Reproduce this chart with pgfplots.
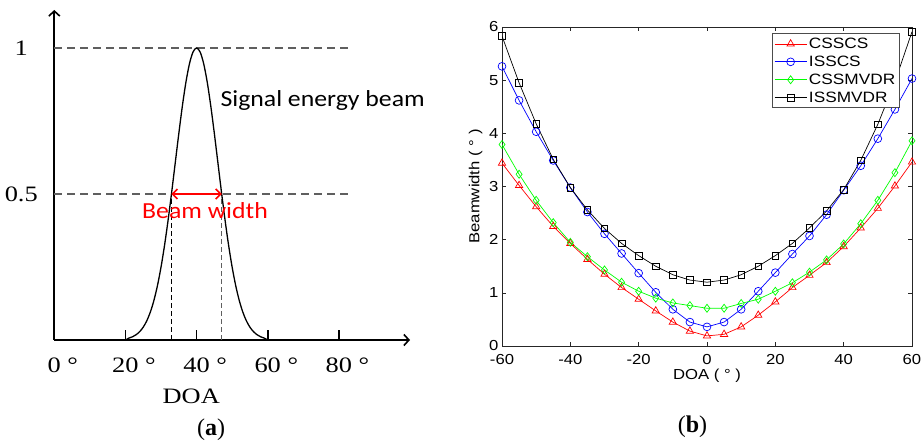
\documentclass[border=0pt]{standalone}
\usepackage{fontspec}
\setmainfont{Liberation Serif}
\usepackage{pgfplots}
\pgfplotsset{compat=1.18}
\usetikzlibrary{arrows.meta}
\newfontfamily\serA[FakeStretch=1.2]{Liberation Serif}
\newfontfamily\calA[FakeStretch=1.12]{Carlito}
\newfontfamily\sanB[FakeStretch=1.15]{Liberation Sans}
\definecolor{dgray}{RGB}{95,95,95}
\begin{document}
\begin{tikzpicture}
\useasboundingbox (0,0) rectangle (922pt,-446pt);
% ---------------- panel (a)
\begin{axis}[
  at={(54.3pt,-340pt)}, anchor=south west,
  scale only axis, width=355.7pt, height=330pt,
  xmin=0, xmax=100, ymin=0, ymax=1.13,
  axis lines=left,
  every outer x axis line/.append style={line width=1.6pt,-{Straight Barb[length=5pt,width=11pt]}},
  every outer y axis line/.append style={line width=1.6pt,-{Straight Barb[length=5pt,width=11pt]}},
  xtick={0,20,40,60,80},
  xticklabels={0\rlap{\ °},20\rlap{\ °},40\rlap{\ °},60\rlap{\ °},80\rlap{\ °}},
  xtick align=inside, major tick length=10pt,
  xtick style={line width=1.6pt,black},
  ytick={0.5,1}, yticklabels={0.5,1}, ytick style={draw=none},
  ticklabel style={font=\serA\fontsize{22}{25}\selectfont},
  xticklabel style={anchor=north, yshift=-14pt},
  yticklabel style={anchor=center, xshift=-28pt},
  xlabel={DOA},
  xlabel style={font=\serA\fontsize{22}{25}\selectfont, at={(rel axis cs:0.385,0)}, anchor=center, yshift=-56pt},
  clip=false,
]
\addplot[dgray, line width=1.1pt, dash pattern=on 8pt off 5pt] coordinates {(0,1) (83.6,1)};
\addplot[dgray, line width=1.1pt, dash pattern=on 8pt off 5pt] coordinates {(0,0.5) (83.6,0.5)};
\addplot[black, line width=1.1pt, dash pattern=on 5pt off 3pt] coordinates {(32.9,0) (32.9,0.5)};
\addplot[dgray, line width=1.1pt, dash pattern=on 5pt off 3pt] coordinates {(47.1,0) (47.1,0.5)};
\addplot[black, line width=1.3pt, smooth] coordinates {
(20,0) (21,0.0066) (22,0.0111) (23,0.0181) (24,0.0286) (25,0.0439) (26,0.0657) (27,0.0956)
(28,0.1353) (29,0.1862) (30,0.2494) (31,0.3247) (32,0.4111) (33,0.5063) (34,0.6065)
(35,0.7066) (36,0.8007) (37,0.8825) (38,0.9460) (39,0.9862) (40,1)
(41,0.9862) (42,0.9460) (43,0.8825) (44,0.8007) (45,0.7066) (46,0.6065) (47,0.5063)
(48,0.4111) (49,0.3247) (50,0.2494) (51,0.1862) (52,0.1353) (53,0.0956) (54,0.0657)
(55,0.0439) (56,0.0286) (57,0.0181) (58,0.0111) (59,0.0066) (60,0)};
\draw[red, line width=1.6pt, {Straight Barb[length=5pt,width=10pt]}-{Straight Barb[length=5pt,width=10pt]}] (axis cs:32.9,0.5) -- (axis cs:47.1,0.5);
\end{axis}
\node[font=\calA\fontsize{23}{26}\selectfont, anchor=west] at (217pt,-100pt) {Signal energy beam};
\node[red, font=\calA\fontsize{23}{26}\selectfont] at (205pt,-211pt) {Beam width};
\node[font=\fontsize{24}{28}\selectfont] at (211pt,-430pt) {(\textbf{a})};
% ---------------- panel (b)
\begin{axis}[
  at={(502pt,-346pt)}, anchor=south west,
  scale only axis, width=410pt, height=319pt,
  xmin=-60, xmax=60, ymin=0, ymax=6,
  xtick={-60,-40,...,60}, ytick={0,1,...,6},
  tick align=inside, major tick length=4pt,
  axis line style={line width=0.8pt, black!85},
  tick style={black!85, line width=0.6pt},
  /pgf/number format/assume math mode=true,
  ticklabel style={font=\sanB\fontsize{14.5}{16}\selectfont},
  xticklabel style={yshift=-5pt},
  xlabel={DOA ( ° )}, ylabel={Beamwidth ( ° )},
  label style={font=\sanB\fontsize{14.5}{16}\selectfont},
  xlabel style={yshift=3pt},
  legend style={at={(0.658,0.98)}, anchor=north west, font=\sanB\fontsize{15}{17}\selectfont,
    draw=black!70, line width=1pt, row sep=2pt, inner sep=2pt},
  legend cell align=left,
  legend image code/.code={\draw[mark repeat=2,mark phase=2] plot coordinates {(0pt,0pt) (16pt,0pt) (32pt,0pt)};},
]
\addplot[red, line width=0.7pt, mark=triangle, mark size=4.2pt] coordinates {
(-60,3.44) (-55,3.02) (-50,2.62) (-45,2.25) (-40,1.93) (-35,1.63) (-30,1.35) (-25,1.10)
(-20,0.88) (-15,0.66) (-10,0.45) (-5,0.28) (0,0.19) (5,0.22) (10,0.36) (15,0.58)
(20,0.83) (25,1.10) (30,1.33) (35,1.57) (40,1.87) (45,2.22) (50,2.59) (55,3.01) (60,3.46)};
\addlegendentry{CSSCS}
\addplot[blue, line width=0.7pt, mark=o, mark size=3.9pt] coordinates {
(-60,5.26) (-55,4.62) (-50,4.03) (-45,3.49) (-40,2.98) (-35,2.52) (-30,2.11) (-25,1.74)
(-20,1.37) (-15,1.01) (-10,0.69) (-5,0.45) (0,0.36) (5,0.45) (10,0.69) (15,1.03)
(20,1.38) (25,1.73) (30,2.07) (35,2.47) (40,2.93) (45,3.39) (50,3.90) (55,4.45) (60,5.03)};
\addlegendentry{ISSCS}
\addplot[green, line width=0.7pt, mark=diamond, mark size=4pt] coordinates {
(-60,3.79) (-55,3.23) (-50,2.74) (-45,2.32) (-40,1.95) (-35,1.68) (-30,1.43) (-25,1.20)
(-20,1.03) (-15,0.90) (-10,0.81) (-5,0.76) (0,0.71) (5,0.71) (10,0.80) (15,0.88)
(20,1.03) (25,1.19) (30,1.39) (35,1.62) (40,1.92) (45,2.30) (50,2.74) (55,3.26) (60,3.86)};
\addlegendentry{CSSMVDR}
\addplot[black, line width=0.7pt, mark=square, mark size=3.3pt] coordinates {
(-60,5.83) (-55,4.95) (-50,4.18) (-45,3.51) (-40,2.98) (-35,2.56) (-30,2.21) (-25,1.93)
(-20,1.70) (-15,1.50) (-10,1.34) (-5,1.24) (0,1.20) (5,1.24) (10,1.34) (15,1.50)
(20,1.70) (25,1.93) (30,2.22) (35,2.54) (40,2.94) (45,3.49) (50,4.17) (55,4.97) (60,5.91)};
\addlegendentry{ISSMVDR}
\end{axis}
\node[font=\fontsize{24}{28}\selectfont] at (692.5pt,-427pt) {(\textbf{b})};
\end{tikzpicture}
\end{document}
